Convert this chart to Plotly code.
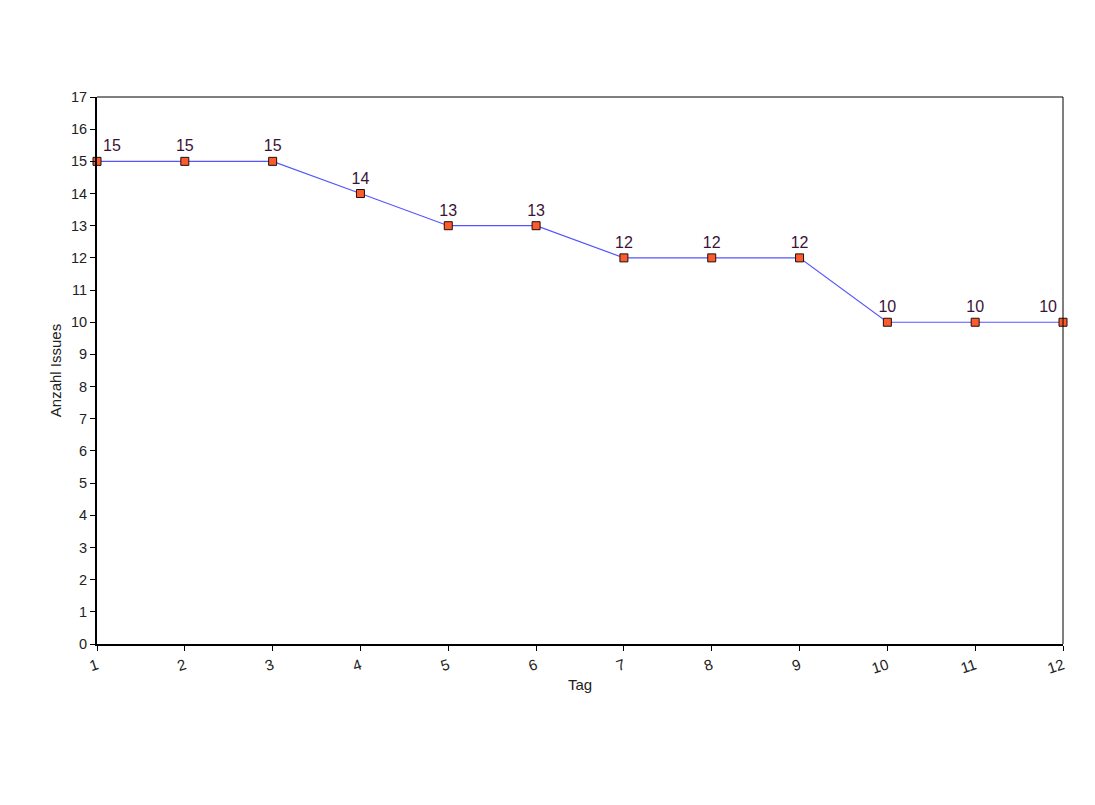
import plotly.graph_objects as go

tage = [1, 2, 3, 4, 5, 6, 7, 8, 9, 10, 11, 12]
anzahl_issues = [15, 15, 15, 14, 13, 13, 12, 12, 12, 10, 10, 10]

# Beschriftung am Rand nach innen schieben
positions = ["top center"] * len(tage)
positions[0] = "top right"
positions[-1] = "top left"

fig = go.Figure()
fig.add_trace(go.Scatter(
    x=tage,
    y=anzahl_issues,
    mode="lines+markers+text",
    text=[str(v) for v in anzahl_issues],
    textposition=positions,
    textfont=dict(family="Liberation Sans, Arial", size=16, color="#3a1238"),
    line=dict(color="#5555ff", width=1.2),
    marker=dict(symbol="square", size=8, color="#ff5a2a",
                line=dict(color="#1a1010", width=1)),
    cliponaxis=False,
    showlegend=False,
))

# Seite hat 8px Body-Rand, daher Ränder entsprechend verschoben
fig.update_layout(
    width=1095,
    height=805,
    paper_bgcolor="white",
    plot_bgcolor="white",
    margin=dict(l=89, r=40, t=89, b=169),
    font=dict(family="Liberation Sans, Arial", size=14, color="#222"),
    xaxis=dict(
        title=dict(text="Tag", standoff=4, font=dict(size=15)),
        range=[1, 12],
        tickmode="array",
        tickvals=tage,
        tickangle=-18,
        tickfont=dict(size=15),
        ticks="outside",
        ticklen=5,
        tickcolor="black",
        showgrid=False,
        zeroline=False,
        showline=True,
        linecolor="black",
        linewidth=2,
        mirror=False,
    ),
    yaxis=dict(
        title=dict(text="Anzahl Issues", standoff=6, font=dict(size=15)),
        range=[0, 17],
        dtick=1,
        tickfont=dict(size=14.5),
        ticks="outside",
        ticklen=5,
        tickcolor="black",
        showgrid=False,
        zeroline=False,
        showline=True,
        linecolor="black",
        linewidth=2,
    ),
    shapes=[
        dict(type="line", xref="paper", yref="paper", x0=0, x1=1, y0=1, y1=1,
             line=dict(color="black", width=1)),
        dict(type="line", xref="paper", yref="paper", x0=1, x1=1, y0=0, y1=1,
             line=dict(color="black", width=1)),
    ],
)

fig.write_html("out.html")
